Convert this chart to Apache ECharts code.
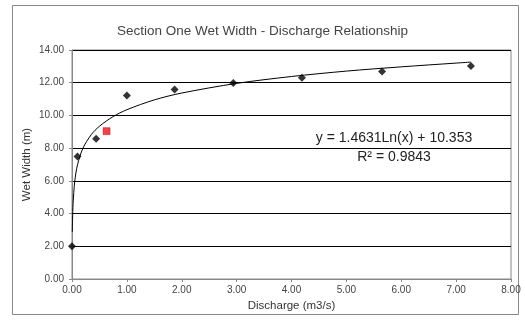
<!DOCTYPE html>
<html>
<head>
<meta charset="utf-8">
<script src="https://cdn.jsdelivr.net/npm/echarts@6/dist/echarts.min.js"></script>
<style>
  html, body { margin: 0; padding: 0; background: #fff; }
  #chart { width: 525px; height: 320px; }
</style>
</head>
<body>
<div id="chart"></div>
<script>
// measured points (discharge m3/s, wet width m)
const discharge = [0.00, 0.10, 0.44, 1.00, 1.87, 2.94, 4.19, 5.65, 7.27];
const wetWidth = [2.00, 7.49, 8.57, 11.22, 11.59, 11.98, 12.31, 12.68, 13.02];
// highlighted point
const redX = [0.63];
const redY = [9.04];
// log trend line
const trendX = [0.006, 0.01, 0.02, 0.05, 0.1, 0.2, 0.35, 0.5, 0.75, 1, 1.5, 2, 3, 4, 5, 6, 7, 7.27];
const trendY = [2.87, 3.62, 4.63, 5.97, 6.98, 8.00, 8.82, 9.34, 9.93, 10.35, 10.95, 11.37, 11.96, 12.38, 12.71, 12.97, 13.20, 13.26];

const xTicks = ['0.00', '1.00', '2.00', '3.00', '4.00', '5.00', '6.00', '7.00', '8.00'];

const chart = echarts.init(document.getElementById('chart'));
const font = 'Liberation Sans, Arial, sans-serif';

const option = {
    backgroundColor: '#fff',
    animation: false,
    title: {
        text: 'Section One Wet Width - Discharge Relationship',
        left: 'center',
        top: 19,
        textStyle: { fontFamily: font, fontSize: 13.5, fontWeight: 'normal', color: '#444' },
    },
    grid: {
        left: 72, right: 14, top: 50, bottom: 41,
        show: true, borderColor: '#888', borderWidth: 1,
    },
    xAxis: {
        type: 'value',
        min: 0, max: 8, interval: 1,
        name: 'Discharge (m3/s)',
        nameLocation: 'middle',
        nameGap: 20,
        nameTextStyle: { fontFamily: font, fontSize: 11.5, color: '#333' },
        axisLine: { show: true, lineStyle: { color: '#888' } },
        axisTick: { show: true, length: 3, lineStyle: { color: '#888' } },
        axisLabel: {
            fontFamily: font, fontSize: 10, color: '#444', margin: 6,
            formatter: v => xTicks[Math.round(v)],
        },
        splitLine: { show: false },
    },
    yAxis: {
        type: 'value',
        min: 0, max: 14, interval: 2,
        name: 'Wet Width (m)',
        nameLocation: 'middle',
        nameGap: 39,
        nameMoveOverlap: false,
        nameTextStyle: { fontFamily: font, fontSize: 11.5, color: '#333' },
        axisLine: { show: true, lineStyle: { color: '#888' } },
        axisTick: { show: true, length: 3, lineStyle: { color: '#888' } },
        axisLabel: {
            fontFamily: font, fontSize: 10, color: '#444', margin: 8,
            formatter: v => v.toFixed(2),
        },
        splitLine: { show: true, lineStyle: { color: '#000', width: 1 } },
    },
    series: [
        {
            type: 'line',
            data: trendX.map((x, i) => [x, trendY[i]]),
            smooth: 0.3,
            showSymbol: false,
            lineStyle: { color: '#000', width: 1 },
            z: 2,
        },
        {
            type: 'scatter',
            data: discharge.map((x, i) => [x, wetWidth[i]]),
            symbol: 'diamond',
            symbolSize: 8,
            itemStyle: { color: '#000' },
            z: 3,
        },
        {
            type: 'scatter',
            data: redX.map((x, i) => [x, redY[i]]),
            symbol: 'rect',
            symbolSize: 7,
            itemStyle: { color: '#e8141b', borderColor: '#a00', borderWidth: 0.5 },
            z: 3,
        },
    ],
    graphic: [
        {
            type: 'rect',
            shape: { x: 12.5, y: 5.5, width: 506, height: 309 },
            style: { fill: 'none', stroke: '#888', lineWidth: 1 },
            silent: true,
        },
        {
            type: 'text',
            x: 394, y: 138,
            style: {
                text: 'y = 1.4631Ln(x) + 10.353',
                font: '14px ' + font, fill: '#222',
                textAlign: 'center', textVerticalAlign: 'middle',
            },
        },
        {
            type: 'text',
            x: 394, y: 157,
            style: {
                text: 'R² = 0.9843',
                font: '14px ' + font, fill: '#222',
                textAlign: 'center', textVerticalAlign: 'middle',
            },
        },
    ],
};

chart.setOption(option);
</script>
</body>
</html>
